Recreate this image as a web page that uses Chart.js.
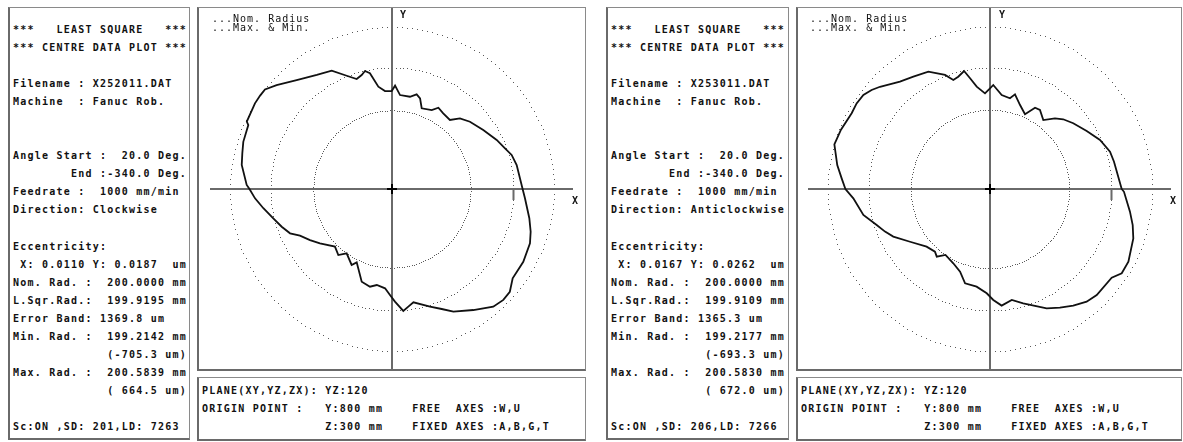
<!DOCTYPE html>
<html>
<head>
<meta charset="utf-8">
<title>Least square centre data plot</title>
<script src="https://cdn.jsdelivr.net/npm/chart.js@4.4.1/dist/chart.umd.min.js"></script>
<style>
  body { margin: 0; background: #fff; }
  #page { position: relative; width: 1183px; height: 442px; overflow: hidden; font-family: "DejaVu Sans Mono", "Liberation Mono", monospace; color: #111; }
  .box { position: absolute; box-sizing: border-box; border: 1px solid #8a8a8a; border-left: 2px solid #6a6a6a; border-bottom: 2px solid #6a6a6a; background: #fff; }
  .txt { position: absolute; left: 3px; white-space: pre; font-size: 10px; font-weight: bold; letter-spacing: 1.23px; }
  .side .txt { top: 13px; line-height: 18.05px; }
  .info .txt { top: 4px; line-height: 18px; }
  .plot canvas { position: absolute; left: 0; top: 0; }
  .key { position: absolute; top: 6px; white-space: pre; font-size: 10px; line-height: 9px; letter-spacing: 1px; }
  .axlbl { position: absolute; font-size: 10px; font-weight: bold; transform: translate(-50%, -50%); }
</style>
</head>
<body>
<div id="page">
  <div class="box side" style="left:8px;top:7px;width:182px;height:433px"><div class="txt" id="side1"></div></div>
  <div class="box plot" style="left:197px;top:7px;width:389px;height:364px">
    <canvas id="plot1" width="386" height="361"></canvas>
    <div class="key" id="key1" style="left:13px"></div>
    <div class="axlbl" style="left:204px;top:6px">Y</div>
    <div class="axlbl" style="left:376px;top:192px">X</div>
  </div>
  <div class="box info" style="left:197px;top:377px;width:389px;height:64px"><div class="txt" id="info1"></div></div>

  <div class="box side" style="left:606px;top:7px;width:183px;height:433px"><div class="txt" id="side2"></div></div>
  <div class="box plot" style="left:796px;top:7px;width:386px;height:364px">
    <canvas id="plot2" width="383" height="361"></canvas>
    <div class="key" id="key2" style="left:12px"></div>
    <div class="axlbl" style="left:204px;top:6px">Y</div>
    <div class="axlbl" style="left:375px;top:192px">X</div>
  </div>
  <div class="box info" style="left:796px;top:377px;width:386px;height:64px"><div class="txt" id="info2"></div></div>
</div>

<script>
// ---- data: angle (deg, ccw from +X) and radial deviation (um)
const angles1 = [0, 10.9, 15.9, 19.8, 25.1, 32.9, 40.8, 46.1, 50, 55.9,
  60.3, 63.3, 69.8, 72.8, 75.4, 79, 85.1, 88.3, 90.2, 94.1,
  97.6, 100.8, 102.9, 104.9, 107.8, 111.8, 117, 123.4, 131.2, 138,
  141.9, 144.7, 148, 155.1, 156, 162.4, 166.6, 170.9, 178.4, 180,
  183.9, 188.5, 193.9, 198.9, 203.5, 206.9, 211.9, 217, 225.3, 230.9,
  234.8, 242, 244.3, 251.9, 257.3, 261, 266, 268.9, 271.5, 275.3,
  277.9, 280.7, 287.9, 292.5, 296.6, 303.9, 310.7, 315.1, 318.9, 323.5,
  331, 338.5, 342.9, 348, 356];
const dev1 = [150, 90, 48, -23, -97, -211, -305, -387, -517, -496,
  -459, -545, -584, -438, -390, -453, -448, -298, -387, -384,
  -301, -61, -8, -58, -99, 8, 186, 248, 383, 556,
  657, 660, 660, 635, 589, 568, 533, 505, 393, 346,
  260, 141, 13, -81, -170, -301, -410, -515, -665, -599,
  -705, -584, -660, -395, -352, -400, -361, -255, -145, 16,
  -45, -102, 36, 138, 257, 400, 556, 587, 574, 471,
  471, 441, 388, 311, 194];

const angles2 = [0, 12.4, 17.3, 24, 31, 38.3, 43.6, 47.4, 52.3, 57.7,
  61, 64.9, 70.3, 75.2, 77.6, 82.9, 88.2, 90, 93, 97.4,
  100.2, 102.4, 105.8, 108.6, 111.5, 117.7, 124.3, 130, 137.1, 140.1,
  143.4, 147.3, 151.3, 158.3, 164, 171.1, 175.9, 180, 183.9, 191.6,
  197.6, 202.1, 206.2, 213.4, 222.3, 228.7, 231.8, 236, 243.7, 250.1,
  255.2, 262.2, 268.2, 271.7, 275.7, 281.1, 286.2, 295.4, 300.5, 305.5,
  310.6, 315.2, 323.9, 327.4, 332.3, 341, 345.8, 350.8, 358.8];
const dev2 = [168, 90, 69, -18, -143, -254, -336, -420, -565, -461,
  -471, -642, -532, -389, -471, -441, -287, -343, -423, -301,
  -148, -12, -79, -107, 18, 183, 239, 306, 472, 540,
  596, 609, 596, 640, 665, 545, 448, 380, 255, 128,
  -43, -135, -226, -423, -589, -627, -583, -690, -636, -553,
  -394, -377, -282, -173, -71, -138, -40, 174, 268, 360,
  444, 476, 479, 574, 573, 495, 423, 334, 206];

// max / min deviation circles (um)
const maxDev1 = 664.5, minDev1 = -705.3;
const maxDev2 = 672.0, minDev2 = -693.3;

const keyLines = ['...Nom. Radius', '...Max. & Min.'];

const side1 = [
  '***   LEAST SQUARE   ***',
  '*** CENTRE DATA PLOT ***',
  '',
  'Filename : X252011.DAT',
  'Machine  : Fanuc Rob.',
  '',
  '',
  'Angle Start :  20.0 Deg.',
  '        End :-340.0 Deg.',
  'Feedrate :  1000 mm/min',
  'Direction: Clockwise',
  '',
  'Eccentricity:',
  ' X: 0.0110 Y: 0.0187  um',
  'Nom. Rad. :  200.0000 mm',
  'L.Sqr.Rad.:  199.9195 mm',
  'Error Band: 1369.8 um',
  'Min. Rad. :  199.2142 mm',
  '             (-705.3 um)',
  'Max. Rad. :  200.5839 mm',
  '             ( 664.5 um)',
  '',
  'Sc:ON ,SD: 201,LD: 7263'
];
const side2 = [
  '***   LEAST SQUARE   ***',
  '*** CENTRE DATA PLOT ***',
  '',
  'Filename : X253011.DAT',
  'Machine  : Fanuc Rob.',
  '',
  '',
  'Angle Start :  20.0 Deg.',
  '        End :-340.0 Deg.',
  'Feedrate :  1000 mm/min',
  'Direction: Anticlockwise',
  '',
  'Eccentricity:',
  ' X: 0.0167 Y: 0.0262  um',
  'Nom. Rad. :  200.0000 mm',
  'L.Sqr.Rad.:  199.9109 mm',
  'Error Band: 1365.3 um',
  'Min. Rad. :  199.2177 mm',
  '             (-693.3 um)',
  'Max. Rad. :  200.5830 mm',
  '             ( 672.0 um)',
  '',
  'Sc:ON ,SD: 206,LD: 7266'
];
const info = [
  'PLANE(XY,YZ,ZX): YZ:120',
  'ORIGIN POINT :   Y:800 mm    FREE  AXES :W,U',
  '                 Z:300 mm    FIXED AXES :A,B,G,T'
];

// ---- plot settings
const NOM_R = 2000;        // nominal circle drawn at this many (magnified) um
const PX_PER_UM = 0.06075; // magnification on screen
const DOTS = 200;          // dots per reference circle

document.getElementById('side1').textContent = side1.join('\n');
document.getElementById('side2').textContent = side2.join('\n');
document.getElementById('info1').textContent = info.join('\n');
document.getElementById('info2').textContent = info.join('\n');
document.getElementById('key1').textContent = keyLines.join('\n');
document.getElementById('key2').textContent = keyLines.join('\n');

function toXY(angles, devs) {
  let pts = angles.map((a, i) => {
    let r = NOM_R + devs[i];
    let t = a * Math.PI / 180;
    return { x: r * Math.cos(t), y: r * Math.sin(t) };
  });
  pts.push(pts[0]); // close the trace
  return pts;
}

// dotted circles, axes, nominal mark and centre cross
const polarGrid = {
  id: 'polarGrid',
  beforeDatasetsDraw(chart, args, opts) {
    const ctx = chart.ctx, xs = chart.scales.x, ys = chart.scales.y;
    const area = chart.chartArea;
    const ox = xs.getPixelForValue(0), oy = ys.getPixelForValue(0);
    ctx.save();
    ctx.fillStyle = '#5a5a5a';
    [NOM_R + opts.maxDev, NOM_R, NOM_R + opts.minDev].forEach(r => {
      for (let i = 0; i < DOTS; i++) {
        let t = 2 * Math.PI * i / DOTS;
        let px = Math.round(xs.getPixelForValue(r * Math.cos(t)));
        let py = Math.round(ys.getPixelForValue(r * Math.sin(t)));
        ctx.fillRect(px, py, 1, 1);
      }
    });
    ctx.strokeStyle = '#6a6a6a';
    ctx.lineWidth = 2;
    ctx.beginPath();
    ctx.moveTo(ox - 182, oy);
    ctx.lineTo(ox + 181, oy);
    ctx.moveTo(ox, area.top);
    ctx.lineTo(ox, area.bottom);
    // small mark at nominal radius on X
    let nx = xs.getPixelForValue(NOM_R);
    ctx.moveTo(nx, oy);
    ctx.lineTo(nx, oy + 11);
    ctx.stroke();
    ctx.restore();
  },
  afterDatasetsDraw(chart) {
    const ctx = chart.ctx;
    const ox = chart.scales.x.getPixelForValue(0), oy = chart.scales.y.getPixelForValue(0);
    ctx.save();
    ctx.strokeStyle = '#000';
    ctx.lineWidth = 2;
    ctx.beginPath();
    ctx.moveTo(ox - 5, oy); ctx.lineTo(ox + 5, oy);
    ctx.moveTo(ox, oy - 5); ctx.lineTo(ox, oy + 5);
    ctx.stroke();
    ctx.restore();
  }
};

function makePlot(id, angles, devs, maxDev, minDev, cx, cy) {
  let canvas = document.getElementById(id);
  let W = canvas.width, H = canvas.height;
  let u = 1 / PX_PER_UM;
  return new Chart(canvas, {
    type: 'scatter',
    data: {
      datasets: [{
        data: toXY(angles, devs),
        showLine: true,
        borderColor: '#111',
        borderWidth: 1.8,
        pointRadius: 0,
        tension: 0
      }]
    },
    options: {
      responsive: false,
      animation: false,
      devicePixelRatio: 1,
      events: [],
      layout: { padding: 0 },
      plugins: {
        legend: { display: false },
        tooltip: { enabled: false },
        polarGrid: { maxDev: maxDev, minDev: minDev }
      },
      scales: {
        x: { type: 'linear', display: false, min: -cx * u, max: (W - cx) * u },
        y: { type: 'linear', display: false, min: -(H - cy) * u, max: cy * u }
      }
    },
    plugins: [polarGrid]
  });
}

makePlot('plot1', angles1, dev1, maxDev1, minDev1, 193, 181);
makePlot('plot2', angles2, dev2, maxDev2, minDev2, 192, 181);
</script>
</body>
</html>
